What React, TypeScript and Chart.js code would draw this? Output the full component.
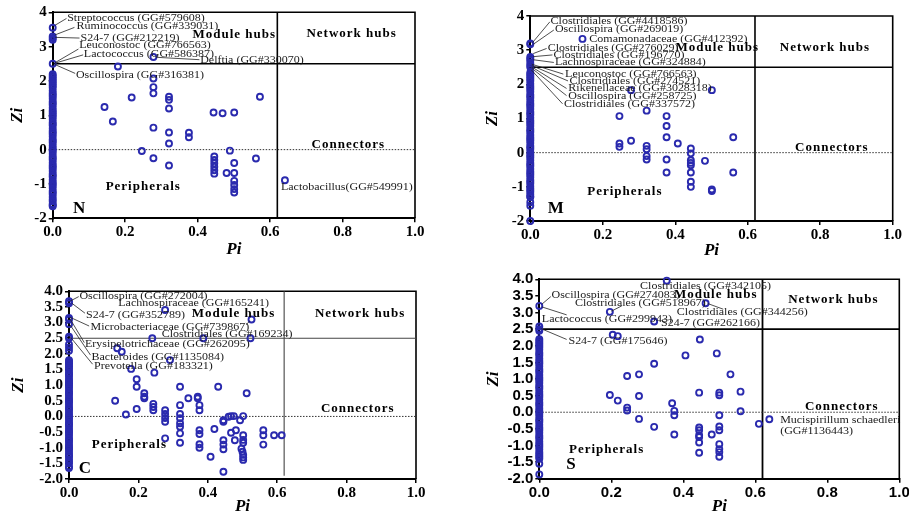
import React, { useEffect, useRef } from 'react';
import { Chart, registerables } from 'chart.js';

Chart.register(...registerables);

const SERIF = '"Liberation Serif", "Times New Roman", serif';
const SANS = '"Liberation Sans", Arial, sans-serif';
const BLUE = '#2a2aae';

// ---------- thresholds ----------
const PI_CUT = 0.62;
const ZI_CUT = 2.5;

// ---------- Panel N ----------
const N_AXIS_ZI = [3.55, 3.3, 3.25, 3.2, 2.5, 2.2, 2.15, 2.1, 2.05, 2.0, 1.95, 1.9, 1.85, 1.8, 1.72, 1.65, 1.6, 1.55, 1.48, 1.4, 1.35, 1.3, 1.22, 1.15, 1.1, 1.05, 1.0, 0.95, 0.88, 0.8, 0.75, 0.7, 0.62, 0.55, 0.5, 0.45, 0.38, 0.3, 0.25, 0.2, 0.12, 0.05, 0.0, -0.05, -0.12, -0.2, -0.25, -0.3, -0.38, -0.45, -0.5, -0.55, -0.62, -0.7, -0.75, -0.8, -0.88, -0.95, -1.0, -1.05, -1.12, -1.2, -1.25, -1.3, -1.38, -1.45, -1.5, -1.58, -1.62, -1.65];
const N_PI = [0.18, 0.278, 0.278, 0.278, 0.278, 0.218, 0.143, 0.166, 0.278, 0.321, 0.321, 0.321, 0.321, 0.321, 0.376, 0.376, 0.246, 0.278, 0.321, 0.444, 0.469, 0.501, 0.572, 0.489, 0.561, 0.446, 0.446, 0.446, 0.446, 0.446, 0.446, 0.48, 0.501, 0.501, 0.501, 0.501, 0.501, 0.501, 0.641];
const N_ZI = [2.42, 2.7, 2.07, 1.82, 1.64, 1.52, 1.24, 0.82, 0.64, 1.54, 1.45, 1.2, 0.5, 0.18, 0.49, 0.36, -0.04, -0.25, -0.46, 1.08, 1.06, 1.08, 1.54, -0.03, -0.26, -0.2, -0.3, -0.4, -0.5, -0.6, -0.7, -0.68, -0.39, -0.68, -0.91, -1.03, -1.15, -1.25, -0.89];

// ---------- Panel M ----------
const M_AXIS_ZI = [3.2, 3.17, 2.8, 2.75, 2.7, 2.62, 2.55, 2.5, 2.35, 2.3, 2.25, 2.2, 2.15, 2.1, 2.02, 1.95, 1.9, 1.85, 1.78, 1.7, 1.65, 1.6, 1.52, 1.45, 1.4, 1.35, 1.28, 1.2, 1.15, 1.1, 1.02, 0.95, 0.9, 0.85, 0.78, 0.7, 0.65, 0.6, 0.52, 0.45, 0.4, 0.35, 0.28, 0.2, 0.15, 0.1, 0.02, -0.05, -0.1, -0.15, -0.22, -0.3, -0.35, -0.4, -0.48, -0.55, -0.6, -0.65, -0.72, -0.8, -0.85, -0.9, -0.98, -1.05, -1.1, -1.15, -1.22, -1.28, -1.3, -1.45, -1.55, -2.0];
const M_PI = [0.144, 0.278, 0.501, 0.246, 0.321, 0.376, 0.376, 0.376, 0.246, 0.246, 0.278, 0.321, 0.321, 0.321, 0.321, 0.407, 0.376, 0.376, 0.443, 0.443, 0.443, 0.443, 0.443, 0.482, 0.443, 0.443, 0.443, 0.501, 0.501, 0.56, 0.56];
const M_ZI = [3.33, 1.83, 1.83, 1.07, 1.23, 1.07, 0.78, 0.45, 0.27, 0.17, 0.35, 0.2, 0.1, -0.1, -0.2, 0.27, -0.2, -0.58, 0.12, -0.02, -0.22, -0.3, -0.37, -0.24, -0.58, -0.85, -1.0, -1.08, -1.12, 0.45, -0.58];

// ---------- Panel C ----------
const C_AXIS_ZI = [3.68, 3.62, 3.15, 3.1, 2.95, 2.55, 2.5, 2.3, 2.2, 2.1, 1.8, 1.75, 1.7, 1.65, 1.6, 1.55, 1.48, 1.4, 1.35, 1.3, 1.22, 1.15, 1.1, 1.05, 1.0, 0.95, 0.88, 0.8, 0.75, 0.7, 0.62, 0.55, 0.5, 0.45, 0.38, 0.3, 0.25, 0.2, 0.12, 0.05, 0.0, -0.05, -0.12, -0.2, -0.25, -0.3, -0.38, -0.45, -0.5, -0.55, -0.62, -0.7, -0.75, -0.8, -0.88, -0.95, -1.0, -1.05, -1.12, -1.2, -1.25, -1.3, -1.38, -1.45, -1.5, -1.6, -1.65];
const C_PI = [0.277, 0.526, 0.523, 0.387, 0.24, 0.139, 0.152, 0.291, 0.179, 0.246, 0.195, 0.195, 0.217, 0.217, 0.217, 0.133, 0.243, 0.243, 0.243, 0.195, 0.164, 0.277, 0.277, 0.277, 0.277, 0.277, 0.32, 0.32, 0.32, 0.32, 0.32, 0.32, 0.32, 0.32, 0.344, 0.371, 0.371, 0.376, 0.376, 0.376, 0.376, 0.376, 0.376, 0.43, 0.419, 0.408, 0.445, 0.445, 0.46, 0.467, 0.475, 0.445, 0.445, 0.445, 0.445, 0.467, 0.481, 0.478, 0.493, 0.502, 0.502, 0.502, 0.502, 0.497, 0.5, 0.502, 0.502, 0.502, 0.512, 0.56, 0.56, 0.56, 0.591, 0.613];
const C_ZI = [3.4, 3.1, 2.5, 2.5, 2.5, 2.18, 2.07, 1.8, 1.52, 1.4, 1.19, 0.95, 0.74, 0.63, 0.58, 0.5, 0.4, 0.3, 0.2, 0.24, 0.06, 0.2, 0.08, -0.05, -0.17, -0.7, 0.95, 0.36, 0.08, -0.06, -0.22, -0.33, -0.54, -0.84, 0.58, 0.63, 0.58, 0.36, 0.2, -0.44, -0.56, -0.89, -1.0, 0.95, -0.4, -1.29, -0.12, -0.17, -0.01, 0.01, 0.01, -0.76, -0.9, -1.05, -1.77, -0.52, -0.44, -0.76, -0.12, 0.01, -0.6, -0.75, -0.84, -1.03, -1.13, -1.23, -1.31, -1.39, 0.74, -0.44, -0.6, -0.9, -0.6, -0.6];

// ---------- Panel S ----------
const S_AXIS_ZI = [3.2, 2.58, 2.5, 2.45, 2.2, 2.15, 2.1, 2.05, 2.0, 1.95, 1.88, 1.8, 1.75, 1.7, 1.62, 1.55, 1.5, 1.45, 1.38, 1.3, 1.25, 1.2, 1.12, 1.05, 1.0, 0.95, 0.88, 0.8, 0.75, 0.7, 0.62, 0.55, 0.5, 0.45, 0.38, 0.3, 0.25, 0.2, 0.12, 0.05, 0.0, -0.05, -0.12, -0.2, -0.25, -0.3, -0.38, -0.45, -0.5, -0.55, -0.62, -0.7, -0.75, -0.8, -0.88, -0.95, -1.0, -1.05, -1.12, -1.2, -1.25, -1.3, -1.35, -1.4, -1.55, -1.87];
const S_PI = [0.354, 0.196, 0.462, 0.319, 0.204, 0.218, 0.446, 0.493, 0.406, 0.319, 0.531, 0.277, 0.244, 0.444, 0.5, 0.5, 0.559, 0.196, 0.218, 0.277, 0.244, 0.244, 0.369, 0.375, 0.375, 0.559, 0.5, 0.277, 0.319, 0.375, 0.444, 0.444, 0.444, 0.444, 0.444, 0.444, 0.479, 0.5, 0.5, 0.5, 0.5, 0.5, 0.5, 0.61, 0.639];
const S_ZI = [3.96, 3.02, 3.28, 2.73, 2.33, 2.29, 2.19, 1.77, 1.71, 1.46, 1.14, 1.14, 1.09, 0.59, 0.59, 0.51, 0.62, 0.52, 0.35, 0.49, 0.14, 0.05, 0.27, 0.04, -0.09, 0.03, -0.09, -0.2, -0.44, -0.67, -0.46, -0.54, -0.69, -0.75, -0.91, -1.22, -0.67, -0.43, -0.54, -0.96, -1.11, -1.2, -1.34, -0.35, -0.21];

// ---------- annotations (text at Pi/Zi, optional leader line) ----------
type Note = { text: string; x: number; y: number; line?: number[] };

const N_NOTES: Note[] = [
  { text: 'Streptococcus (GG#579608)', x: 0.04, y: 3.84, line: [0.006, 3.62, 0.038, 3.82] },
  { text: 'Ruminococcus (GG#339031)', x: 0.066, y: 3.6, line: [0.006, 3.34, 0.06, 3.56] },
  { text: 'S24-7 (GG#212219)', x: 0.077, y: 3.26, line: [0.007, 3.27, 0.074, 3.25] },
  { text: 'Leuconostoc (GG#766563)', x: 0.073, y: 3.03, line: [0.006, 2.53, 0.071, 2.93] },
  { text: 'Lactococcus (GG#586387)', x: 0.086, y: 2.79, line: [0.007, 2.52, 0.084, 2.76] },
  { text: 'Delftia (GG#330070)', x: 0.407, y: 2.61, line: [0.285, 2.69, 0.405, 2.62] },
  { text: 'Oscillospira (GG#316381)', x: 0.064, y: 2.17, line: [0.006, 2.48, 0.062, 2.22] },
  { text: 'Lactobacillus(GG#549991)', x: 0.63, y: -1.08 },
];

const M_NOTES: Note[] = [
  { text: 'Clostridiales (GG#4418586)', x: 0.056, y: 3.85, line: [0.006, 3.22, 0.054, 3.83] },
  { text: 'Oscillospira (GG#269019)', x: 0.068, y: 3.62, line: [0.008, 3.17, 0.065, 3.59] },
  { text: 'Comamonadaceae (GG#412392)', x: 0.163, y: 3.33 },
  { text: 'Clostridiales (GG#276029)', x: 0.048, y: 3.07, line: [0.008, 2.9, 0.045, 3.05] },
  { text: 'Clostridiales (GG#196770)', x: 0.064, y: 2.86, line: [0.008, 2.81, 0.061, 2.86] },
  { text: 'Lachnospiraceae (GG#324884)', x: 0.068, y: 2.64, line: [0.008, 2.72, 0.065, 2.64] },
  { text: 'Leuconostoc (GG#766563)', x: 0.096, y: 2.3, line: [0.004, 2.59, 0.091, 2.3] },
  { text: 'Clostridiales (GG#274521)', x: 0.108, y: 2.1, line: [0.004, 2.55, 0.104, 2.1] },
  { text: 'Rikenellaceae (GG#3028318)', x: 0.105, y: 1.88, line: [0.004, 2.51, 0.1, 1.88] },
  { text: 'Oscillospira (GG#258725)', x: 0.105, y: 1.66, line: [0.004, 2.47, 0.1, 1.67] },
  { text: 'Clostridiales (GG#337572)', x: 0.093, y: 1.42, line: [0.003, 2.42, 0.089, 1.43] },
];

const C_NOTES: Note[] = [
  { text: 'Oscillospira (GG#272004)', x: 0.03, y: 3.85, line: [0.004, 3.69, 0.028, 3.83] },
  { text: 'Lachnospiraceae (GG#165241)', x: 0.142, y: 3.62 },
  { text: 'S24-7 (GG#352789)', x: 0.049, y: 3.24, line: [0.008, 3.62, 0.046, 3.3] },
  { text: 'Microbacteriaceae (GG#739867)', x: 0.062, y: 2.85, line: [0.003, 3.17, 0.058, 2.89] },
  { text: '', x: 0, y: 0, line: [0.51, 2.93, 0.522, 3.06] },
  { text: 'Clostridiales (GG#169234)', x: 0.267, y: 2.64 },
  { text: 'Erysipelotrichaceae (GG#262095)', x: 0.046, y: 2.31, line: [0.003, 3.12, 0.044, 2.36] },
  { text: 'Bacteroides (GG#1135084)', x: 0.065, y: 1.91, line: [0.003, 2.93, 0.062, 1.96] },
  { text: 'Prevotella (GG#183321)', x: 0.072, y: 1.62, line: [0.003, 2.55, 0.068, 1.67] },
];

const S_NOTES: Note[] = [
  { text: 'Clostridiales (GG#342105)', x: 0.28, y: 3.8 },
  { text: 'Oscillospira (GG#274083)', x: 0.034, y: 3.53, line: [0.007, 3.25, 0.032, 3.48] },
  { text: 'Clostridiales (GG#518967)', x: 0.099, y: 3.28, line: [0.2, 3.04, 0.229, 3.2] },
  { text: 'Clostridiales (GG#344256)', x: 0.382, y: 3.02, line: [0.468, 3.27, 0.511, 3.1] },
  { text: 'Lactococcus (GG#299943)', x: 0.007, y: 2.81, line: [0.007, 3.17, 0.076, 2.93] },
  { text: 'S24-7 (GG#262166)', x: 0.338, y: 2.68 },
  { text: 'S24-7 (GG#175646)', x: 0.081, y: 2.14, line: [0.004, 2.52, 0.076, 2.19] },
  { text: 'Mucispirillum schaedleri', x: 0.669, y: -0.23 },
  { text: '(GG#1136443)', x: 0.669, y: -0.58 },
];

type Region = { text: string; x: number; y: number };
const N_REGIONS: Region[] = [
  { text: 'Module hubs', x: 0.501, y: 3.36 },
  { text: 'Network hubs', x: 0.825, y: 3.37 },
  { text: 'Connectors', x: 0.816, y: 0.135 },
  { text: 'Peripherals', x: 0.25, y: -1.08 },
];
const M_REGIONS: Region[] = [
  { text: 'Module hubs', x: 0.516, y: 3.08 },
  { text: 'Network hubs', x: 0.813, y: 3.08 },
  { text: 'Connectors', x: 0.832, y: 0.146 },
  { text: 'Peripherals', x: 0.261, y: -1.14 },
];
const C_REGIONS: Region[] = [
  { text: 'Module hubs', x: 0.474, y: 3.3 },
  { text: 'Network hubs', x: 0.839, y: 3.3 },
  { text: 'Connectors', x: 0.832, y: 0.26 },
  { text: 'Peripherals', x: 0.174, y: -0.91 },
];
const S_REGIONS: Region[] = [
  { text: 'Module hubs', x: 0.49, y: 3.53 },
  { text: 'Network hubs', x: 0.817, y: 3.38 },
  { text: 'Connectors', x: 0.84, y: 0.17 },
  { text: 'Peripherals', x: 0.187, y: -1.12 },
];

type PanelCfg = {
  key: string;
  letter: Region;
  box: { left: number; top: number; w: number; h: number };
  yw: number; padTop: number; padRight: number; xh: number;
  piPad: number; ziPad: number;
  tickFamily: string;
  yStep: number; yDecimals: number;
  axisZi: number[]; pi: number[]; zi: number[];
  notes: Note[]; regions: Region[];
  cutColor: string; cutWidth: number; vMin: number | null;
};

const PANELS: PanelCfg[] = [
  {
    key: 'N', letter: { text: 'N', x: 0.073, y: -1.71 },
    box: { left: 0, top: 0, w: 460, h: 262 },
    yw: 52.7, padTop: 12.3, padRight: 45, xh: 43.7, piPad: 3.5, ziPad: 9.5,
    tickFamily: SERIF, yStep: 1, yDecimals: 0,
    axisZi: N_AXIS_ZI, pi: N_PI, zi: N_ZI, notes: N_NOTES, regions: N_REGIONS,
    cutColor: '#000', cutWidth: 1.6, vMin: null,
  },
  {
    key: 'M', letter: { text: 'M', x: 0.07, y: -1.63 },
    box: { left: 460, top: 0, w: 460, h: 262 },
    yw: 70.3, padTop: 16, padRight: 27.3, xh: 41, piPad: 2.5, ziPad: 24.5,
    tickFamily: SERIF, yStep: 1, yDecimals: 0,
    axisZi: M_AXIS_ZI, pi: M_PI, zi: M_ZI, notes: M_NOTES, regions: M_REGIONS,
    cutColor: '#000', cutWidth: 1.6, vMin: null,
  },
  {
    key: 'C', letter: { text: 'C', x: 0.046, y: -1.66 },
    box: { left: 0, top: 262, w: 460, h: 260 },
    yw: 69, padTop: 29.3, padRight: 44, xh: 43, piPad: 6.5, ziPad: 10.5,
    tickFamily: SERIF, yStep: 0.5, yDecimals: 1,
    axisZi: C_AXIS_ZI, pi: C_PI, zi: C_ZI, notes: C_NOTES, regions: C_REGIONS,
    cutColor: '#444', cutWidth: 1.1, vMin: -1.9,
  },
  {
    key: 'S', letter: { text: 'S', x: 0.088, y: -1.59 },
    box: { left: 460, top: 262, w: 480, h: 260 },
    yw: 79.3, padTop: 17.3, padRight: 40.7, xh: 43.3, piPad: 6.5, ziPad: 25.5,
    tickFamily: SANS, yStep: 0.5, yDecimals: 1,
    axisZi: S_AXIS_ZI, pi: S_PI, zi: S_ZI, notes: S_NOTES, regions: S_REGIONS,
    cutColor: '#000', cutWidth: 1.8, vMin: null,
  },
];

function makeOverlay(p: PanelCfg) {
  return {
    id: 'overlay' + p.key,
    beforeDatasetsDraw(chart: any) {
      const { ctx, chartArea: a, scales } = chart;
      const x = scales.x, y = scales.y;
      ctx.save();
      // frame top & right
      ctx.strokeStyle = '#000';
      ctx.lineWidth = 1.6;
      ctx.beginPath();
      ctx.moveTo(a.left, a.top);
      ctx.lineTo(a.right, a.top);
      ctx.lineTo(a.right, a.bottom);
      ctx.stroke();
      // thresholds
      ctx.strokeStyle = p.cutColor;
      ctx.lineWidth = p.cutWidth;
      const yc = y.getPixelForValue(ZI_CUT);
      ctx.beginPath();
      ctx.moveTo(a.left, yc);
      ctx.lineTo(a.right, yc);
      ctx.stroke();
      const xc = x.getPixelForValue(PI_CUT);
      ctx.beginPath();
      ctx.moveTo(xc, a.top);
      ctx.lineTo(xc, p.vMin === null ? a.bottom : y.getPixelForValue(p.vMin));
      ctx.stroke();
      // dotted zero line
      ctx.setLineDash([1.5, 1.5]);
      ctx.lineWidth = 1;
      ctx.strokeStyle = '#333';
      const y0 = y.getPixelForValue(0);
      ctx.beginPath();
      ctx.moveTo(a.left, y0);
      ctx.lineTo(a.right, y0);
      ctx.stroke();
      ctx.restore();
    },
    afterDatasetsDraw(chart: any) {
      const { ctx, scales } = chart;
      const x = scales.x, y = scales.y;
      ctx.save();
      // leader lines
      ctx.strokeStyle = '#222';
      ctx.lineWidth = 0.8;
      p.notes.forEach((n) => {
        if (!n.line) return;
        ctx.beginPath();
        ctx.moveTo(x.getPixelForValue(n.line[0]), y.getPixelForValue(n.line[1]));
        ctx.lineTo(x.getPixelForValue(n.line[2]), y.getPixelForValue(n.line[3]));
        ctx.stroke();
      });
      // note texts (slightly widened like the source figure)
      ctx.fillStyle = '#1a1a1a';
      ctx.font = '11px ' + SERIF;
      ctx.textAlign = 'left';
      ctx.textBaseline = 'middle';
      p.notes.forEach((n) => {
        if (!n.text) return;
        ctx.save();
        ctx.translate(x.getPixelForValue(n.x), y.getPixelForValue(n.y));
        ctx.scale(1.09, 1);
        ctx.fillText(n.text, 0, 0);
        ctx.restore();
      });
      // region texts
      ctx.fillStyle = '#000';
      ctx.font = 'bold 13px ' + SERIF;
      ctx.textAlign = 'center';
      (ctx as any).letterSpacing = '1px';
      p.regions.forEach((r) => {
        ctx.fillText(r.text, x.getPixelForValue(r.x), y.getPixelForValue(r.y));
      });
      (ctx as any).letterSpacing = '0px';
      // panel letter
      ctx.font = 'bold 17px ' + SERIF;
      ctx.fillText(p.letter.text, x.getPixelForValue(p.letter.x), y.getPixelForValue(p.letter.y));
      ctx.restore();
    },
  };
}

function buildConfig(p: PanelCfg): any {
  const points = [
    ...p.axisZi.map((v) => ({ x: 0, y: v })),
    ...p.pi.map((v, i) => ({ x: v, y: p.zi[i] })),
  ];
  const tickFont = { family: p.tickFamily, size: 15, weight: 'bold' as const };
  const titleFont = { family: SERIF, size: 17, weight: 'bold' as const, style: 'italic' as const, lineHeight: 1 };
  const gridCfg = {
    display: true,
    drawOnChartArea: false,
    drawTicks: true,
    tickLength: 4,
    color: '#000',
    lineWidth: 1.5,
  };
  return {
    type: 'scatter',
    data: {
      datasets: [
        {
          data: points,
          pointStyle: 'circle',
          pointRadius: 3,
          pointBorderWidth: 1.9,
          borderColor: BLUE,
          backgroundColor: 'rgba(255,255,255,0)',
          pointBackgroundColor: 'rgba(255,255,255,0)',
          pointBorderColor: BLUE,
          clip: false,
        },
      ],
    },
    options: {
      responsive: false,
      animation: false,
      events: [],
      layout: { padding: { left: 0, top: p.padTop, right: p.padRight, bottom: 0 } },
      plugins: { legend: { display: false }, tooltip: { enabled: false }, title: { display: false } },
      scales: {
        x: {
          type: 'linear',
          position: 'bottom',
          min: 0,
          max: 1,
          afterFit: (s: any) => { s.height = p.xh; },
          ticks: {
            stepSize: 0.2,
            autoSkip: false,
            maxRotation: 0,
            padding: 1,
            color: '#000',
            font: tickFont,
            callback: (v: any) => Number(v).toFixed(1),
          },
          grid: gridCfg,
          border: { display: true, color: '#000', width: 2 },
          title: { display: true, text: 'Pi', color: '#000', font: titleFont, padding: { top: 0, bottom: p.piPad } },
        },
        y: {
          type: 'linear',
          position: 'left',
          min: -2,
          max: 4,
          afterFit: (s: any) => { s.width = p.yw; },
          ticks: {
            stepSize: p.yStep,
            autoSkip: false,
            padding: 2,
            color: '#000',
            font: tickFont,
            callback: (v: any) => Number(v).toFixed(p.yDecimals),
          },
          grid: gridCfg,
          border: { display: true, color: '#000', width: 2 },
          title: { display: true, text: 'Zi', color: '#000', font: titleFont, padding: { top: p.ziPad, bottom: 0 } },
        },
      },
    },
    plugins: [makeOverlay(p)],
  };
}

function Panel({ p }: { p: PanelCfg }) {
  const ref = useRef<HTMLCanvasElement>(null);
  useEffect(() => {
    if (!ref.current) return;
    const chart = new Chart(ref.current, buildConfig(p));
    return () => chart.destroy();
  }, [p]);
  return (
    <canvas
      ref={ref}
      width={p.box.w}
      height={p.box.h}
      style={{ position: 'absolute', left: p.box.left, top: p.box.top, width: p.box.w, height: p.box.h }}
    />
  );
}

export default function App() {
  return (
    <div
      style={{
        position: 'fixed',
        left: 0,
        top: 0,
        width: 909,
        height: 513,
        overflow: 'hidden',
        background: '#fff',
      }}
    >
      {PANELS.map((p) => (
        <Panel key={p.key} p={p} />
      ))}
    </div>
  );
}
